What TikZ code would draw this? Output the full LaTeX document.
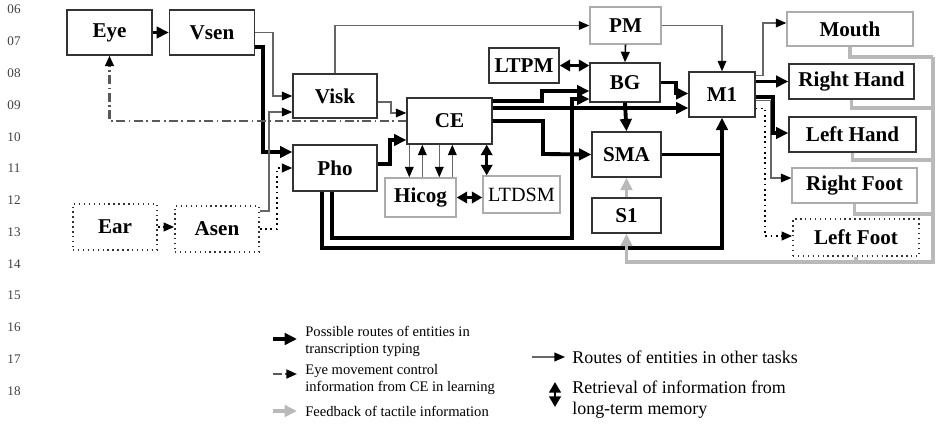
\documentclass[tikz,border=0pt]{standalone}
\usepackage{fontspec}
\setmainfont{Liberation Serif}
\usetikzlibrary{arrows.meta,calc}

\begin{document}
\begin{tikzpicture}[x=0.02cm,y=-0.02cm,
  blk/.style={draw=black!80,line width=0.8pt,inner sep=0pt,font=\bfseries\fontsize{12}{14}\selectfont},
  gbx/.style={blk,draw=gray!65},
  dbx/.style={blk,dotted,line width=1pt},
  arrtip/.style={-{Triangle[length=7pt,width=6.5pt]}},
  stip/.style={-{Triangle[length=6pt,width=5pt,color=black]}},
  fat/.style={line width=2.2pt},
  thk/.style={fat,arrtip},
  thn/.style={draw=gray!80!black,line width=0.7pt,stip},
  dtd/.style={line width=1pt,dotted,stip},
  ddash/.style={draw=gray!70!black,line width=1.2pt,dash pattern=on 5pt off 2pt on 1pt off 2pt,stip},
  fb/.style={gray!55,line width=2pt},
  dbl/.style={line width=1.5pt,{Triangle[length=6pt,width=6.5pt]}-{Triangle[length=6pt,width=6.5pt]}},
  lgd/.style={align=left,inner sep=0pt,font=\fontsize{8.3}{9.8}\selectfont},
  lgdb/.style={align=left,inner sep=0pt,font=\fontsize{10.2}{11.5}\selectfont},
  lnum/.style={font=\fontsize{7.5}{9}\selectfont,text=black!75}]
\useasboundingbox (0,0) rectangle (936,423);

% line numbers of the page
\foreach \n [count=\k from 0] in {06,07,08,09,10,11,12,13,14,15,16,17,18}
  \node[lnum] (ln\n) at (14,{9.5+31.8*\k}) {\n};

% input side
\node[blk,minimum width=1.70cm,minimum height=0.90cm] (eye) at (109.5,32.5) {Eye};
\node[blk,minimum width=1.70cm,minimum height=0.90cm] (vsen) at (212,32.5) {Vsen};
\node[dbx,minimum width=1.68cm,minimum height=0.92cm] (ear) at (115,227) {Ear};
\node[dbx,minimum width=1.68cm,minimum height=0.92cm] (asen) at (217,229) {Asen};
\node[blk,minimum width=1.68cm,minimum height=0.88cm] (visk) at (335,96) {Visk};
\node[blk,minimum width=1.68cm,minimum height=0.92cm] (pho) at (335,168) {Pho};
\node[blk,minimum width=1.70cm,minimum height=0.92cm] (ce) at (449.5,121) {CE};
\node[gbx,minimum width=1.42cm,minimum height=0.78cm] (hicog) at (420.5,197.5) {Hicog};
\node[gbx,minimum width=1.54cm,minimum height=0.74cm,font=\fontsize{11.5}{13}\selectfont] (ltdsm) at (521.5,194.5) {LTDSM};

% motor side
\node[gbx,minimum width=1.42cm,minimum height=0.74cm] (pm) at (625.5,25.5) {PM};
\node[blk,minimum width=1.40cm,minimum height=0.70cm] (ltpm) at (524,65.5) {LTPM};
\node[blk,minimum width=1.40cm,minimum height=0.78cm] (bg) at (625,82.5) {BG};
\node[blk,minimum width=1.38cm,minimum height=0.90cm] (sma) at (626.5,154.5) {SMA};
\node[blk,minimum width=1.38cm,minimum height=0.70cm] (s1) at (626.5,215.5) {S1};
\node[blk,minimum width=1.32cm,minimum height=0.90cm] (m1) at (722,94.5) {M1};
\node[gbx,minimum width=2.52cm,minimum height=0.68cm] (mouth) at (850,29) {Mouth};
\node[blk,minimum width=2.50cm,minimum height=0.70cm] (rhand) at (851.5,81.5) {Right Hand};
\node[blk,minimum width=2.54cm,minimum height=0.70cm] (lhand) at (852.5,134.5) {Left Hand};
\node[gbx,minimum width=2.50cm,minimum height=0.70cm] (rfoot) at (854.5,185.5) {Right Foot};
\node[dbx,minimum width=2.52cm,minimum height=0.74cm] (lfoot) at (856,237.5) {Left Foot};

% routes into the working memory
\draw[thk] (eye.east) -- (vsen.west);
\draw[dtd] (ear.east) -- (ear.east -| asen.west);
\draw[thn] (vsen.east) -| (273,96) -- (visk.west);
\draw[thk] ($(vsen.east)+(0,14.5)$) -| (263,152) -- ($(pho.west)+(0,-16)$);
\draw[thn] ($(asen.east)+(0,-18)$) -| (269,112) -- ($(visk.west)+(0,16)$);
\draw[dtd] (asen.east) -| (277,168) -- (pho.west);
\draw[ddash] (ce.west) -| (eye.south);
\draw[thn] (visk.north) |- (pm.west);
\draw[thn] ($(visk.east)+(0,6)$) -| (391,113) -- ($(ce.west)+(0,-8)$);
\draw[thk] ($(pho.east)+(0,-4)$) -| (390,140) -- ($(ce.west)+(0,19)$);

% CE and its stores
\foreach \dx in {3,33}
  \draw[thn] ($(ce.south west)+(\dx,0)$) coordinate (t) -- (t |- hicog.north);
\foreach \dx in {16,46}
  \path ($(ce.south west)+(\dx,0)$) coordinate (t) (t |- hicog.north) coordinate (u)
    [draw,thn] (u) -- (t);
\draw[dbl] ($(ce.south east)+(-6,0)$) coordinate (r) -- (r |- ltdsm.north);
\draw[dbl] (hicog.east) -- (hicog.east -| ltdsm.west);
\draw[dbl] (ltpm.east) -- (ltpm.east -| bg.west);

% towards M1
\draw[stip,line width=0.9pt] (pm.south) -- (bg.north);
\draw[thn] (pm.east) -| (m1.north);
\draw[thk] ($(ce.east)+(0,-20)$) -| (542,91) -- ($(bg.west)+(0,8.5)$);
\draw[thk] ($(ce.east)+(0,-13)$) coordinate (c) -- (c -| m1.west);
\draw[thk] (ce.east) -| (543,154) -- (sma.west);
\draw[thk] ($(pho.south)+(-3,0)$) |- (572,238) |- ($(bg.west)+(0,16.5)$);
\draw[thk] ($(pho.south)+(-13,0)$) |- ($(m1.south)+(0,130)$) -- (m1.south);
\draw[fat] (sma.east) -- (sma.east -| m1.south);
\draw[thk] (bg.south) -- (sma.north);
\draw[thk] (bg.east) -| (676,93.5) -- ($(m1.west)+(0,-1)$);
\draw[fb,arrtip] (s1.north) -- (sma.south);

% M1 to the effectors
\draw[thn] ($(m1.east)+(0,-19)$) -| (763,23) -- ($(mouth.west)+(0,-6)$);
\draw[thk] (rhand.west -| m1.east) -- (rhand.west);
\draw[thn] ($(m1.east)+(0,6)$) -| (771,178) -- ($(rfoot.west)+(0,-7.5)$);
\draw[thk] ($(m1.east)+(0,2.5)$) -| (773,133) -- ($(lhand.west)+(0,-1.5)$);
\draw[dtd] ($(m1.east)+(0,14)$) -| (765,236) -- ($(lfoot.west)+(0,-1.5)$);

% tactile feedback
\coordinate (fbtop) at (933,57);
\coordinate (fbbot) at (933,262);
\foreach \n/\y in {mouth/57,rhand/108,lhand/160,rfoot/214}
  \draw[fb] (\n.south) |- (933,\y);
\draw[fb] (lfoot.south) -- (lfoot.south |- fbbot);
\draw[fb,arrtip] (fbtop) -- (fbbot) -| (s1.south);

% legend
\node[lgd,anchor=north west] (l1) at (305,326) {Possible routes of entities in\\transcription typing};
\node[lgd,anchor=north west] (l2) at (305,364) {Eye movement control\\information from CE in learning};
\node[lgd,anchor=west] (l3) at (305,411) {Feedback of tactile information};
\node[lgdb,anchor=west] (l4) at (572,357) {Routes of entities in other tasks};
\node[lgdb,anchor=north west] (l5) at (572,381) {Retrieval of information from\\long-term memory};
\draw[thk] ($(l1.north west)+(-32,13)$) -- ($(l1.north west)+(-8,13)$);
\draw[ddash] ($(l2.north west)+(-32,10)$) -- ($(l2.north west)+(-8,10)$);
\draw[fb,arrtip] ($(l3.west)+(-32,0)$) -- ($(l3.west)+(-8,0)$);
\draw[thn] ($(l4.west)+(-40,0)$) -- ($(l4.west)+(-7,0)$);
\draw[dbl] ($(l5.north west)+(-17,1)$) -- ($(l5.north west)+(-17,26)$);
\end{tikzpicture}
\end{document}
